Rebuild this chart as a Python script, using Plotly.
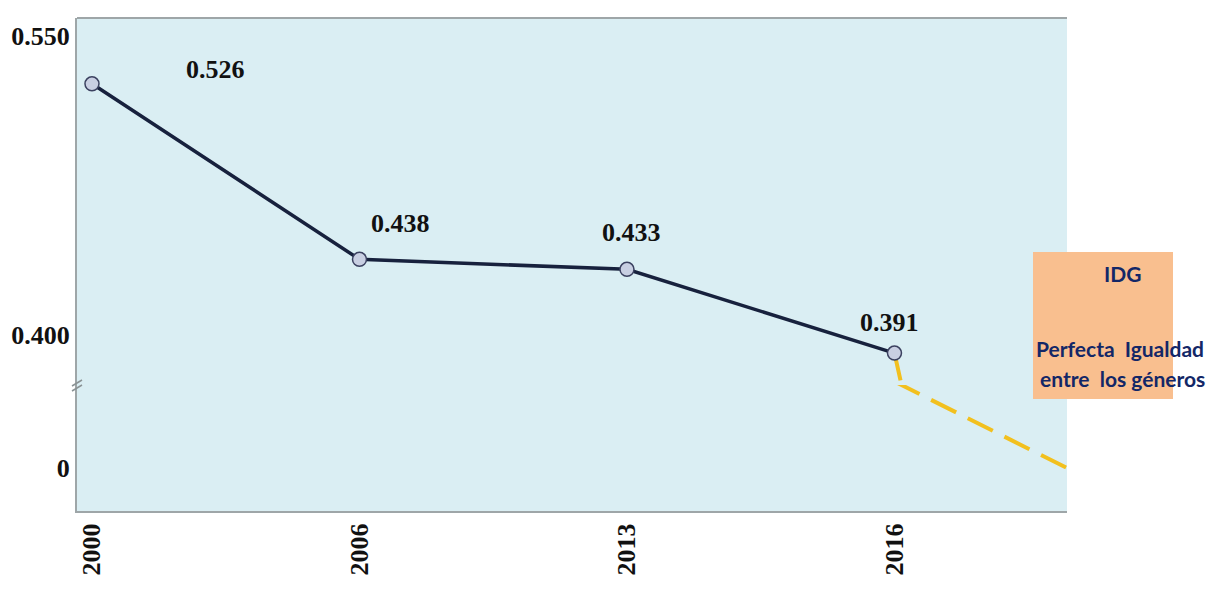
import plotly.graph_objects as go

# Índice de Desigualdad de Género (IDG)
anios = ["2000", "2006", "2013", "2016"]
idg = [0.526, 0.438, 0.433, 0.391]
meta_igualdad = 0.0          # IDG = 0 -> perfecta igualdad
etiquetas = [f"{v:.3f}" for v in idg]

# layout geometry (pixels of the 1207x601 canvas)
W, H = 1207, 601
L, R, T, B = 77, 140, 18, 90
plot_w, plot_h = W - L - R, H - T - B

pos = list(range(len(anios)))
x_rango = [-0.056, 3.645]

# broken value axis: upper panel holds the observed series, lower panel holds 0
corte = 0.375
rango_sup = [corte, 0.559]
rango_inf = [-0.194, corte]
dominio_corte = 0.2556

serif_b = dict(family="Liberation Serif", size=26, color="#111111", weight="bold")
caja_font = dict(family="Lato", size=21, color="#132767", weight="bold")

fig = go.Figure()

# trend toward perfect equality, drawn in both panels
for eje_y in ("y", "y2"):
    fig.add_trace(go.Scatter(
        x=[pos[-1], x_rango[1]], y=[idg[-1], meta_igualdad],
        xaxis="x", yaxis=eje_y, mode="lines",
        line=dict(color="#F2C01E", width=4, dash="28px,13px"),
        hoverinfo="skip", showlegend=False,
    ))

# observed IDG series
fig.add_trace(go.Scatter(
    x=pos, y=idg, xaxis="x", yaxis="y", mode="lines+markers",
    line=dict(color="#17213D", width=3.5),
    marker=dict(size=14, color="#C8CFE2", line=dict(color="#3B4160", width=1.5)),
    showlegend=False, cliponaxis=False,
))

# value labels
desp_x = [124, 41, 5, -5]
desp_y = [14, 36, 37, 31]
anotaciones = []
for xi, v, t, dx, dy in zip(pos, idg, etiquetas, desp_x, desp_y):
    anotaciones.append(dict(
        x=xi, y=v, xref="x", yref="y", text=t, showarrow=False,
        xshift=dx, yshift=dy, font=serif_b,
    ))

# legend-like box on the right
def px_x(p):
    return (p - L) / plot_w

def px_y(p):
    return (H - B - p) / plot_h

anotaciones += [
    dict(x=px_x(1122), y=px_y(273), xref="paper", yref="paper", text="IDG",
         showarrow=False, font=caja_font, xanchor="center", yanchor="middle"),
    dict(x=px_x(1120), y=px_y(348), xref="paper", yref="paper",
         text="Perfecta&nbsp; Igualdad", showarrow=False, font=caja_font,
         xanchor="center", yanchor="middle"),
    dict(x=px_x(1122), y=px_y(378), xref="paper", yref="paper",
         text="entre&nbsp; los géneros", showarrow=False, font=caja_font,
         xanchor="center", yanchor="middle"),
]

formas = [
    # frame top edge
    dict(type="line", xref="paper", yref="paper", x0=0, x1=1, y0=1, y1=1,
         line=dict(color="#9EA6A8", width=2)),
    # box
    dict(type="rect", xref="paper", yref="paper",
         x0=px_x(1033), x1=px_x(1173), y0=px_y(399), y1=px_y(252),
         fillcolor="#F9BF8F", line=dict(width=0), layer="above"),
    # axis break marks
    dict(type="line", xref="paper", yref="paper",
         x0=-5 / plot_w, x1=5 / plot_w,
         y0=dominio_corte - 1 / plot_h, y1=dominio_corte + 5 / plot_h,
         line=dict(color="#8A9294", width=1.5)),
    dict(type="line", xref="paper", yref="paper",
         x0=-5 / plot_w, x1=5 / plot_w,
         y0=dominio_corte - 6 / plot_h, y1=dominio_corte,
         line=dict(color="#8A9294", width=1.5)),
]

eje_comun = dict(
    tickfont=serif_b, showgrid=False, zeroline=False, automargin=False,
    showline=True, linecolor="#9EA6A8", linewidth=2, ticks="",
)

fig.update_layout(
    width=W, height=H,
    margin=dict(l=L, r=R, t=T, b=B, pad=0, autoexpand=False),
    paper_bgcolor="white",
    plot_bgcolor="#DAEEF3",
    showlegend=False,
    annotations=anotaciones,
    shapes=formas,
    xaxis=dict(
        domain=[0, 1], anchor="y2", range=x_rango,
        tickvals=pos, ticktext=anios, tickangle=-90, **eje_comun,
    ),
    yaxis=dict(
        domain=[dominio_corte, 1], anchor="x", range=rango_sup,
        tickvals=[0.400, 0.550], tickformat=".3f", **eje_comun,
    ),
    yaxis2=dict(
        domain=[0, dominio_corte], anchor="x", range=rango_inf,
        tickvals=[0], ticktext=["0"], **eje_comun,
    ),
)

fig.write_html("out.html")
